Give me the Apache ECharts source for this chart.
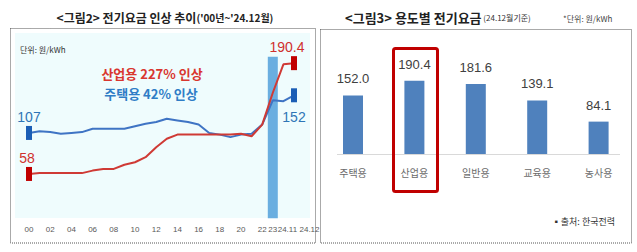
<!DOCTYPE html>
<html><head><meta charset="utf-8">
<script src="https://cdn.jsdelivr.net/npm/echarts@6.0.0/dist/echarts.min.js"></script>
<style>html,body{margin:0;padding:0;background:#fff}#c{width:637px;height:252px}</style>
</head><body><div id="c"></div>
<script>
// ---- Left chart data (원/kWh) ----
const years = ['00','01','02','03','04','05','06','07','08','09','10','11','12','13','14','15','16','17','18','19','20','21','22','23','24.11','24.12'];
const residential = [107,109,108,106,107,108,112,112,112,112,115,118,120,124,122,120,117,107,105,102,105,106,117,146,145,152];
const industrial  = [58,59,59,59,59,59,62,64,64,69,72,78,90,100,105,105,105,105,105,105,106,103,117,155,189,190.4];
const highlightYear = '23';
const highlightRange = [5, 198];

// ---- Right chart data (24.12월 기준) ----
const usageTypes = ['주택용','산업용','일반용','교육용','농사용'];
const usagePrices = [152.0, 190.4, 181.6, 139.1, 84.1];

const KR = "'Noto Sans CJK KR'";
const LAT = "'Liberation Sans', 'Noto Sans CJK KR'";
const NARROW = "'Liberation Sans Narrow', 'Liberation Sans'";

function lineData(vals, markColor, labelColor, firstLabel, lastLabel) {
  return vals.map((v, i) => {
    const isFirst = i === 0, isLast = i === vals.length - 1;
    if (!isFirst && !isLast) return { value: v, symbol: 'none' };
    return {
      value: v, symbol: 'rect', symbolSize: [6, 14],
      itemStyle: { color: markColor },
      label: Object.assign({ show: true, color: labelColor, fontSize: 14, fontFamily: LAT }, isFirst ? firstLabel : lastLabel)
    };
  });
}

const hlIdx = years.indexOf(highlightYear);
const hlBase = years.map((y, i) => i === hlIdx ? highlightRange[0] : '-');
const hlVal = years.map((y, i) => i === hlIdx ? highlightRange[1] - highlightRange[0] : '-');

const chart = echarts.init(document.getElementById('c'), null, { renderer: 'svg' });
chart.setOption({
  animation: false,
  backgroundColor: '#fff',
  grid: [
    { left: 23.7, width: 275.6, top: 30, bottom: 29.5 },
    { left: 322.3, width: 307, top: 77, bottom: 98 }
  ],
  xAxis: [
    {
      gridIndex: 0, type: 'category', data: years, boundaryGap: true,
      axisLine: { show: false }, axisTick: { show: false }, splitLine: { show: false },
      axisLabel: {
        margin: 3, fontSize: 8, color: '#595959', fontFamily: NARROW,
        interval: (idx) => idx <= 22 ? idx % 2 === 0 : true,
        formatter: (v) => v === '24.12' ? '{r|' + v + '}' : (v === '24.11' ? '{q|' + v + '}' : v),
        rich: {
          r: { fontSize: 8, color: '#595959', fontFamily: NARROW, padding: [0, 0, 0, 31] },
          q: { fontSize: 8, color: '#595959', fontFamily: NARROW, padding: [0, 0, 0, 8] }
        }
      }
    },
    {
      gridIndex: 1, type: 'category', data: usageTypes,
      axisLine: { show: false }, axisTick: { show: false },
      axisLabel: { margin: 13, fontSize: 10, color: '#6b6b6b', fontFamily: KR }
    }
  ],
  yAxis: [
    { gridIndex: 0, type: 'value', min: 0, max: 230, show: false },
    { gridIndex: 1, type: 'value', min: 0, max: 200, show: false }
  ],
  series: [
    { name: 'hlBase', type: 'bar', xAxisIndex: 0, yAxisIndex: 0, stack: 'hl', data: hlBase, barWidth: 10,
      itemStyle: { color: 'rgba(0,0,0,0)' }, z: 1, silent: true },
    { name: 'hl', type: 'bar', xAxisIndex: 0, yAxisIndex: 0, stack: 'hl', data: hlVal, barWidth: 10,
      itemStyle: { color: '#6aaee0' }, z: 1, silent: true },
    { name: '주택용', type: 'line', xAxisIndex: 0, yAxisIndex: 0, showSymbol: true, showAllSymbol: true,
      lineStyle: { color: '#3f74c4', width: 2 }, itemStyle: { color: '#3f74c4' }, z: 3,
      data: lineData(residential, '#1b5eb5', '#2e75b6',
        { position: 'top', distance: 2 },
        { position: 'bottom', distance: 8 }) },
    { name: '산업용', type: 'line', xAxisIndex: 0, yAxisIndex: 0, showSymbol: true, showAllSymbol: true,
      lineStyle: { color: '#cf3a35', width: 2 }, itemStyle: { color: '#cf3a35' }, z: 4,
      data: lineData(industrial, '#c00000', '#d0312d',
        { position: 'top', distance: 2, offset: [-2, 0] },
        { position: 'top', distance: 2, offset: [-7, 0] }) },
    { name: '용도별', type: 'bar', xAxisIndex: 1, yAxisIndex: 1, data: usagePrices, barWidth: 20,
      itemStyle: { color: '#4f81bd' },
      label: { show: true, position: 'top', distance: 10, fontSize: 13, color: '#404040', fontFamily: LAT,
        formatter: (p) => p.value.toFixed(1) } }
  ],
  graphic: [
    { type: 'rect', z: -10, shape: { x: 10.5, y: 28.5, width: 305, height: 214.5 },
      style: { fill: 'none', stroke: '#555', lineWidth: 1, lineDash: [1, 1] } },
    { type: 'rect', z: -10, shape: { x: 320.5, y: 29.5, width: 311, height: 213.5 },
      style: { fill: 'none', stroke: '#555', lineWidth: 1, lineDash: [1, 1] } },
    { type: 'rect', z: -9, shape: { x: 15, y: 33, width: 295, height: 185 },
      style: { fill: '#effcfd' } },
    { type: 'line', z: -8, shape: { x1: 337, y1: 154.5, x2: 620, y2: 154.5 },
      style: { stroke: '#d9d9d9', lineWidth: 1 } },
    { type: 'rect', z: 10, shape: { x: 393.5, y: 48.5, width: 44, height: 143, r: 2 },
      style: { fill: 'none', stroke: '#c00000', lineWidth: 3 } },
    { type: 'text', z: 10, style: { x: 165, y: 17, text: "{a|<그림2> 전기요금 인상 추이}{b|('00년~'24.12월)}",
      align: 'center', verticalAlign: 'middle',
      rich: { a: { fontSize: 12, fontWeight: 'bold', fill: '#222', fontFamily: KR },
              b: { fontSize: 10, fontWeight: 'bold', fill: '#222', fontFamily: KR } } } },
    { type: 'text', z: 10, style: { x: 345, y: 17, text: "{a|<그림3> 용도별 전기요금}{b| (24.12월기준)}",
      align: 'left', verticalAlign: 'middle',
      rich: { a: { fontSize: 13, fontWeight: 'bold', fill: '#222', fontFamily: KR },
              b: { fontSize: 8, fill: '#333', fontFamily: KR } } } },
    { type: 'text', z: 10, style: { x: 563, y: 18, text: '*단위: 원/kWh', fontSize: 8, fill: '#444', fontFamily: KR,
      align: 'left', verticalAlign: 'middle' } },
    { type: 'text', z: 10, style: { x: 20, y: 49, text: '단위: 원/kWh', fontSize: 8, fill: '#333', fontFamily: KR,
      align: 'left', verticalAlign: 'middle' } },
    { type: 'text', z: 10, style: { x: 152, y: 73, text: '산업용 227% 인상', fontSize: 13, fontWeight: 'bold',
      fill: '#d9362f', fontFamily: KR, align: 'center', verticalAlign: 'middle' } },
    { type: 'text', z: 10, style: { x: 151, y: 93, text: '주택용 42% 인상', fontSize: 13, fontWeight: 'bold',
      fill: '#2f7dc6', fontFamily: KR, align: 'center', verticalAlign: 'middle' } },
    { type: 'text', z: 10, style: { x: 615, y: 221, text: '▪출처: 한국전력', fontSize: 9, fill: '#333', fontFamily: KR,
      align: 'right', verticalAlign: 'middle' } }
  ]
});
</script></body></html>
